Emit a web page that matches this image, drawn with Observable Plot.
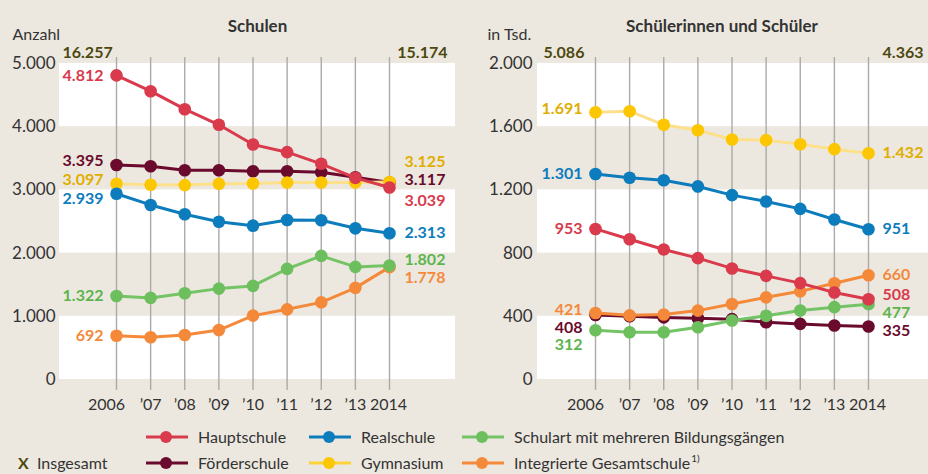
<!DOCTYPE html>
<html>
<head>
<meta charset="utf-8">
<script src="https://cdn.jsdelivr.net/npm/d3@7"></script>
<script src="https://cdn.jsdelivr.net/npm/@observablehq/plot@0.6"></script>
<style>
  html, body { margin: 0; padding: 0; background: #ece8e0; }
  #wrap { position: relative; width: 928px; height: 474px; background: #ece8e0; overflow: hidden; font-family: Lato, sans-serif; color: #333; }
  #left { position: absolute; left: 0; top: 0; }
  #right { position: absolute; left: 464px; top: 0; }
  #legend { position: absolute; left: 0; top: 424px; width: 928px; height: 50px; }
</style>
</head>
<body>
<div id="wrap">
  <div id="left"></div>
  <div id="right"></div>
  <div id="legend"></div>
</div>
<script>
// ---------- data ----------
const years = [2006, 2007, 2008, 2009, 2010, 2011, 2012, 2013, 2014];
const yearLabels = ["2006", "’07", "’08", "’09", "’10", "’11", "’12", "’13", "2014"];
const seriesNames = ["Förderschule", "Gymnasium", "Realschule", "Integrierte Gesamtschule", "Schulart mit mehreren Bildungsgängen", "Hauptschule"];
const totalName = "Insgesamt";
const footnoteMark = "1)";

// Schulen (Anzahl)
const schulenFoerderschule = [3395, 3375, 3312, 3312, 3296, 3296, 3280, 3200, 3117];
const schulenGymnasium     = [3097, 3081, 3076, 3097, 3102, 3118, 3118, 3118, 3125];
const schulenRealschule    = [2939, 2762, 2614, 2497, 2434, 2524, 2519, 2392, 2313];
const schulenGesamtschule  = [692, 668, 705, 782, 1010, 1110, 1220, 1450, 1778];
const schulenMehrere       = [1322, 1291, 1364, 1438, 1481, 1750, 1956, 1782, 1802];
const schulenHauptschule   = [4812, 4562, 4277, 4030, 3718, 3597, 3413, 3191, 3039];
const schulenInsgesamt     = [16257, 15174];
const schulenTicks = [0, 1000, 2000, 3000, 4000, 5000];

// Schülerinnen und Schüler (in Tsd.)
const schuelerFoerderschule = [408, 400, 393, 388, 382, 362, 352, 342, 335];
const schuelerGymnasium     = [1691, 1698, 1612, 1578, 1519, 1515, 1489, 1458, 1432];
const schuelerRealschule    = [1301, 1277, 1261, 1222, 1167, 1127, 1080, 1013, 951];
const schuelerGesamtschule  = [421, 406, 411, 436, 478, 520, 558, 609, 660];
const schuelerMehrere       = [312, 299, 299, 331, 373, 403, 437, 458, 477];
const schuelerHauptschule   = [953, 888, 823, 768, 703, 656, 610, 551, 508];
const schuelerInsgesamt     = [5086, 4363];
const schuelerTicks = [0, 400, 800, 1200, 1600, 2000];

// ---------- styles ----------
const dotColors    = ["#6a0a2c", "#fcc600", "#0d7cbc", "#f5893a", "#6cbf5c", "#d93a4c"];
const lineColors   = ["#6a0a2c", "#fde08c", "#0d7cbc", "#f5893a", "#74c466", "#d93a4c"];
const legendLines  = ["#6a0a2c", "#fcd23a", "#0d7cbc", "#f5893a", "#74c466", "#d93a4c"];
const textColors   = ["#6a0a2c", "#e0ad00", "#0d7cbc", "#f5893a", "#5cb54c", "#d93a4c"];
const totalColor = "#4d480f";
const legendOrder = [[5, 2, 4], [0, 1, 3]]; // indices into seriesNames

const fmt = d3.formatLocale({decimal: ",", thousands: ".", grouping: [3], currency: ["", "€"]}).format(",d");
const yearLabel = new Map(years.map((y, i) => [y, yearLabels[i]]));

function panel(cfg) {
  const step = cfg.ticks[1] - cfg.ticks[0];
  const bands = cfg.ticks.slice(0, -1).filter((_, i) => i % 2 === 0).map(t => ({y1: t, y2: t + step}));
  const axisOpts = {tickSize: 0, tickPadding: 19, tickFormat: d => yearLabel.get(d), fontSize: 16, fill: "#333", label: null};
  const marks = [
    Plot.rect(bands, {y1: "y1", y2: "y2", fill: "#ffffff"}),
    Plot.ruleX(years, {stroke: "#acaaa6", strokeWidth: 1.4, insetTop: -6, insetBottom: -11}),
    Plot.axisY({ticks: cfg.ticks, tickSize: 0, tickPadding: cfg.tickPad, tickFormat: fmt, fontSize: 17, fill: "#333", label: null}),
    Plot.axisX({...axisOpts, ticks: years.slice(0, 1), dx: -10}),
    Plot.axisX({...axisOpts, ticks: years.slice(1, -1)}),
    Plot.axisX({...axisOpts, ticks: years.slice(-1), dx: -1})
  ];
  cfg.series.forEach((vals, i) => {
    const rows = years.map((year, j) => ({year, value: vals[j]}));
    marks.push(Plot.line(rows, {x: "year", y: "value", stroke: lineColors[i], strokeWidth: 3}));
    marks.push(Plot.dot(rows, {x: "year", y: "value", fill: dotColors[i], r: 6.3}));
  });
  cfg.series.forEach((vals, i) => {
    const first = [{year: years[0], value: vals[0]}];
    const last = [{year: years[years.length - 1], value: vals[vals.length - 1]}];
    marks.push(Plot.text(first, {x: "year", y: "value", text: d => fmt(d.value), textAnchor: "end", dx: -13, dy: cfg.startDy[i], fill: textColors[i], fontWeight: "bold", fontSize: 16}));
    marks.push(Plot.text(last, {x: "year", y: "value", text: d => fmt(d.value), textAnchor: "start", dx: cfg.endDx, dy: cfg.endDy[i], fill: textColors[i], fontWeight: "bold", fontSize: 16}));
  });
  marks.push(Plot.text([fmt(cfg.total[0])], {frameAnchor: "top-left", text: d => d, dx: cfg.totalDx[0], dy: -17, fill: totalColor, fontWeight: "bold", fontSize: 16}));
  marks.push(Plot.text([fmt(cfg.total[1])], {frameAnchor: "top-right", text: d => d, dx: cfg.totalDx[1], dy: -17, fill: totalColor, fontWeight: "bold", fontSize: 16}));
  marks.push(Plot.text([cfg.title], {frameAnchor: "top", text: d => d, dx: cfg.titleDx, dy: -44, fill: "#333", fontWeight: "bold", fontSize: 17}));
  marks.push(Plot.text([cfg.unit], {frameAnchor: "top-left", text: d => d, textAnchor: "start", dx: cfg.unitDx, dy: -35, fill: "#333", fontSize: 16}));
  return Plot.plot({
    width: 464, height: 420,
    marginTop: 63, marginBottom: 41, marginLeft: cfg.ml, marginRight: cfg.mr,
    x: {domain: [2006, 2014], range: cfg.xRange},
    y: {domain: [0, cfg.ticks[cfg.ticks.length - 1]]},
    style: {fontFamily: "Lato, sans-serif", fontSize: "16px", background: "transparent", color: "#333", overflow: "visible"},
    marks
  });
}

document.getElementById("left").append(panel({
  title: "Schulen", unit: "Anzahl", ticks: schulenTicks, total: schulenInsgesamt,
  series: [schulenFoerderschule, schulenGymnasium, schulenRealschule, schulenGesamtschule, schulenMehrere, schulenHauptschule],
  ml: 59, mr: 9, xRange: [116, 389], tickPad: 4, endDx: 15,
  startDy: [-4, -4, 5, 0, 0, 0], endDy: [-3, -20, 0, 11, -6, 13],
  totalDx: [3, -8], titleDx: 0, unitDx: -47
}));
document.getElementById("right").append(panel({
  title: "Schülerinnen und Schüler", unit: "in Tsd.", ticks: schuelerTicks, total: schuelerInsgesamt,
  series: [schuelerFoerderschule, schuelerGymnasium, schuelerRealschule, schuelerGesamtschule, schuelerMehrere, schuelerHauptschule],
  ml: 73, mr: 0, xRange: [131, 404], tickPad: 5, endDx: 14,
  startDy: [13, -3, 0, -3, 15, 0], endDy: [4, 0, 0, 0, 9, -4],
  totalDx: [6, -5], titleDx: -11, unitDx: -50
}));

// ---------- legend ----------
const colX = [146, 309, 462];
const rowY = [13, 39];
const lg = d3.select("#legend").append("svg").attr("width", 928).attr("height", 50)
  .style("font-family", "Lato, sans-serif").style("font-size", "16px");
legendOrder.forEach((row, r) => {
  row.forEach((si, c) => {
    const g = lg.append("g").attr("transform", `translate(${colX[c]},${rowY[r]})`);
    g.append("line").attr("x1", 0).attr("x2", 42).attr("y1", 0).attr("y2", 0).attr("stroke", legendLines[si]).attr("stroke-width", 3);
    g.append("circle").attr("cx", 20).attr("cy", 0).attr("r", 6).attr("fill", dotColors[si]);
    const t = g.append("text").attr("x", 52).attr("dy", "0.35em").attr("fill", "#333").text(seriesNames[si]);
    if (si === 3) t.append("tspan").attr("font-size", 10).attr("dy", "-0.7em").attr("dx", 1).text(footnoteMark);
  });
});
const gi = lg.append("g").attr("transform", `translate(18,${rowY[1]})`);
gi.append("text").attr("dy", "0.35em").attr("fill", totalColor).attr("font-weight", "bold").text("X");
gi.append("text").attr("x", 19).attr("dy", "0.35em").attr("fill", "#333").text(totalName);
</script>
</body>
</html>
